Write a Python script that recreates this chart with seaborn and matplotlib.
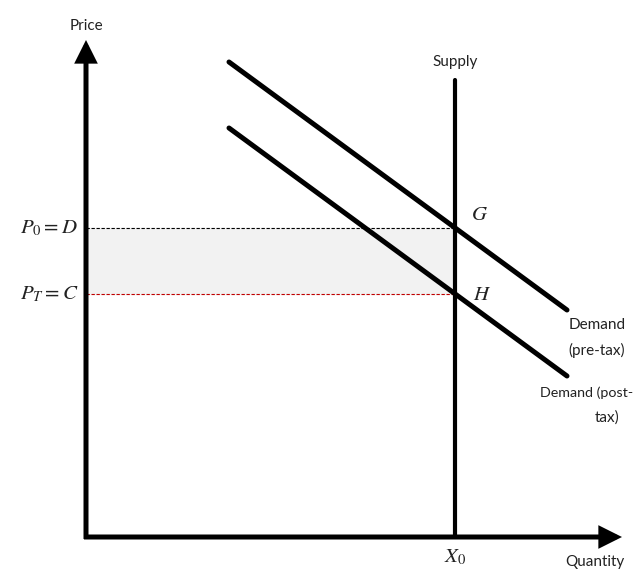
import matplotlib
matplotlib.use('Agg')
import matplotlib.pyplot as plt
import seaborn as sns
import pandas as pd

# Data (quantity / price units, origin at the axes corner)
supply_q = [369, 369]
supply_p = [0, 457]
demand_pre_q = [143, 481]
demand_pre_p = [475, 227]
demand_post_q = [143, 481]
demand_post_p = [409, 161]
axis_len_q = 536
axis_len_p = 497


def price_at(q, qs, ps):
    return ps[0] + (ps[1] - ps[0]) * (q - qs[0]) / (qs[1] - qs[0])


# Equilibrium prices where demand meets supply
x0 = supply_q[0]
p0 = price_at(x0, demand_pre_q, demand_pre_p)
pt = price_at(x0, demand_post_q, demand_post_p)

sns.set_theme(style='white')
plt.rcParams['font.family'] = ['Lato', 'DejaVu Sans']
plt.rcParams['mathtext.fontset'] = 'stix'
plt.rcParams['text.color'] = '#222222'

fig = plt.figure(figsize=(6.37, 5.72), dpi=100)
ax = fig.add_axes([0, 0, 1, 1])
ax.set_xlim(-86, 551)
ax.set_ylim(-35, 537)
ax.axis('off')

# shaded tax area
ax.fill_between([0, x0], pt, p0, color='#f2f2f2', zorder=1)
ax.plot([0, x0], [p0, p0], color='black', lw=0.8, ls=(0, (3, 1.5)), zorder=2)
ax.plot([0, x0], [pt, pt], color='#c00000', lw=0.8, ls=(0, (3, 1.5)), zorder=2)

lines = pd.DataFrame({
    'q': demand_pre_q + demand_post_q + supply_q,
    'p': demand_pre_p + demand_post_p + supply_p,
    'curve': ['pre'] * 2 + ['post'] * 2 + ['supply'] * 2,
})
sns.lineplot(data=lines[lines.curve != 'supply'], x='q', y='p', units='curve',
             estimator=None, color='black', lw=3.6, ax=ax, zorder=3)
sns.lineplot(data=lines[lines.curve == 'supply'], x='q', y='p',
             estimator=None, color='black', lw=3.0, ax=ax, zorder=3)
ax.set_xlabel('')
ax.set_ylabel('')

# axes arrows
arrow = dict(arrowstyle='-|>', lw=3.6, color='black', mutation_scale=28,
             shrinkA=0, shrinkB=0, capstyle='butt', joinstyle='miter')
ax.annotate('', xy=(axis_len_q, 0), xytext=(-2, 0), arrowprops=arrow, zorder=4)
ax.annotate('', xy=(0, axis_len_p), xytext=(0, -2), arrowprops=arrow, zorder=4)

# labels
fs = 11
ax.text(0, 511, 'Price', ha='center', va='center', fontsize=fs)
ax.text(509, -25, 'Quantity', ha='center', va='center', fontsize=fs)
ax.text(x0, 475, 'Supply', ha='center', va='center', fontsize=fs)
ax.text(x0, -20, r'$X_0$', ha='center', va='center', fontsize=15)
ax.text(-8, p0, r'$P_0 = D$', ha='right', va='center', fontsize=15)
ax.text(-8, pt, r'$P_T = C$', ha='right', va='center', fontsize=15)
ax.text(x0 + 25, p0 + 14, r'$G$', ha='center', va='center', fontsize=15)
ax.text(x0 + 27, pt, r'$H$', ha='center', va='center', fontsize=15)
ax.text(511, 212, 'Demand', ha='center', va='center', fontsize=fs)
ax.text(511, 187, '(pre-tax)', ha='center', va='center', fontsize=fs)
ax.text(547, 144, 'Demand (post-', ha='right', va='center', fontsize=10.3)
ax.text(521, 119, 'tax)', ha='center', va='center', fontsize=fs)

fig.savefig('out.png', dpi=100)
